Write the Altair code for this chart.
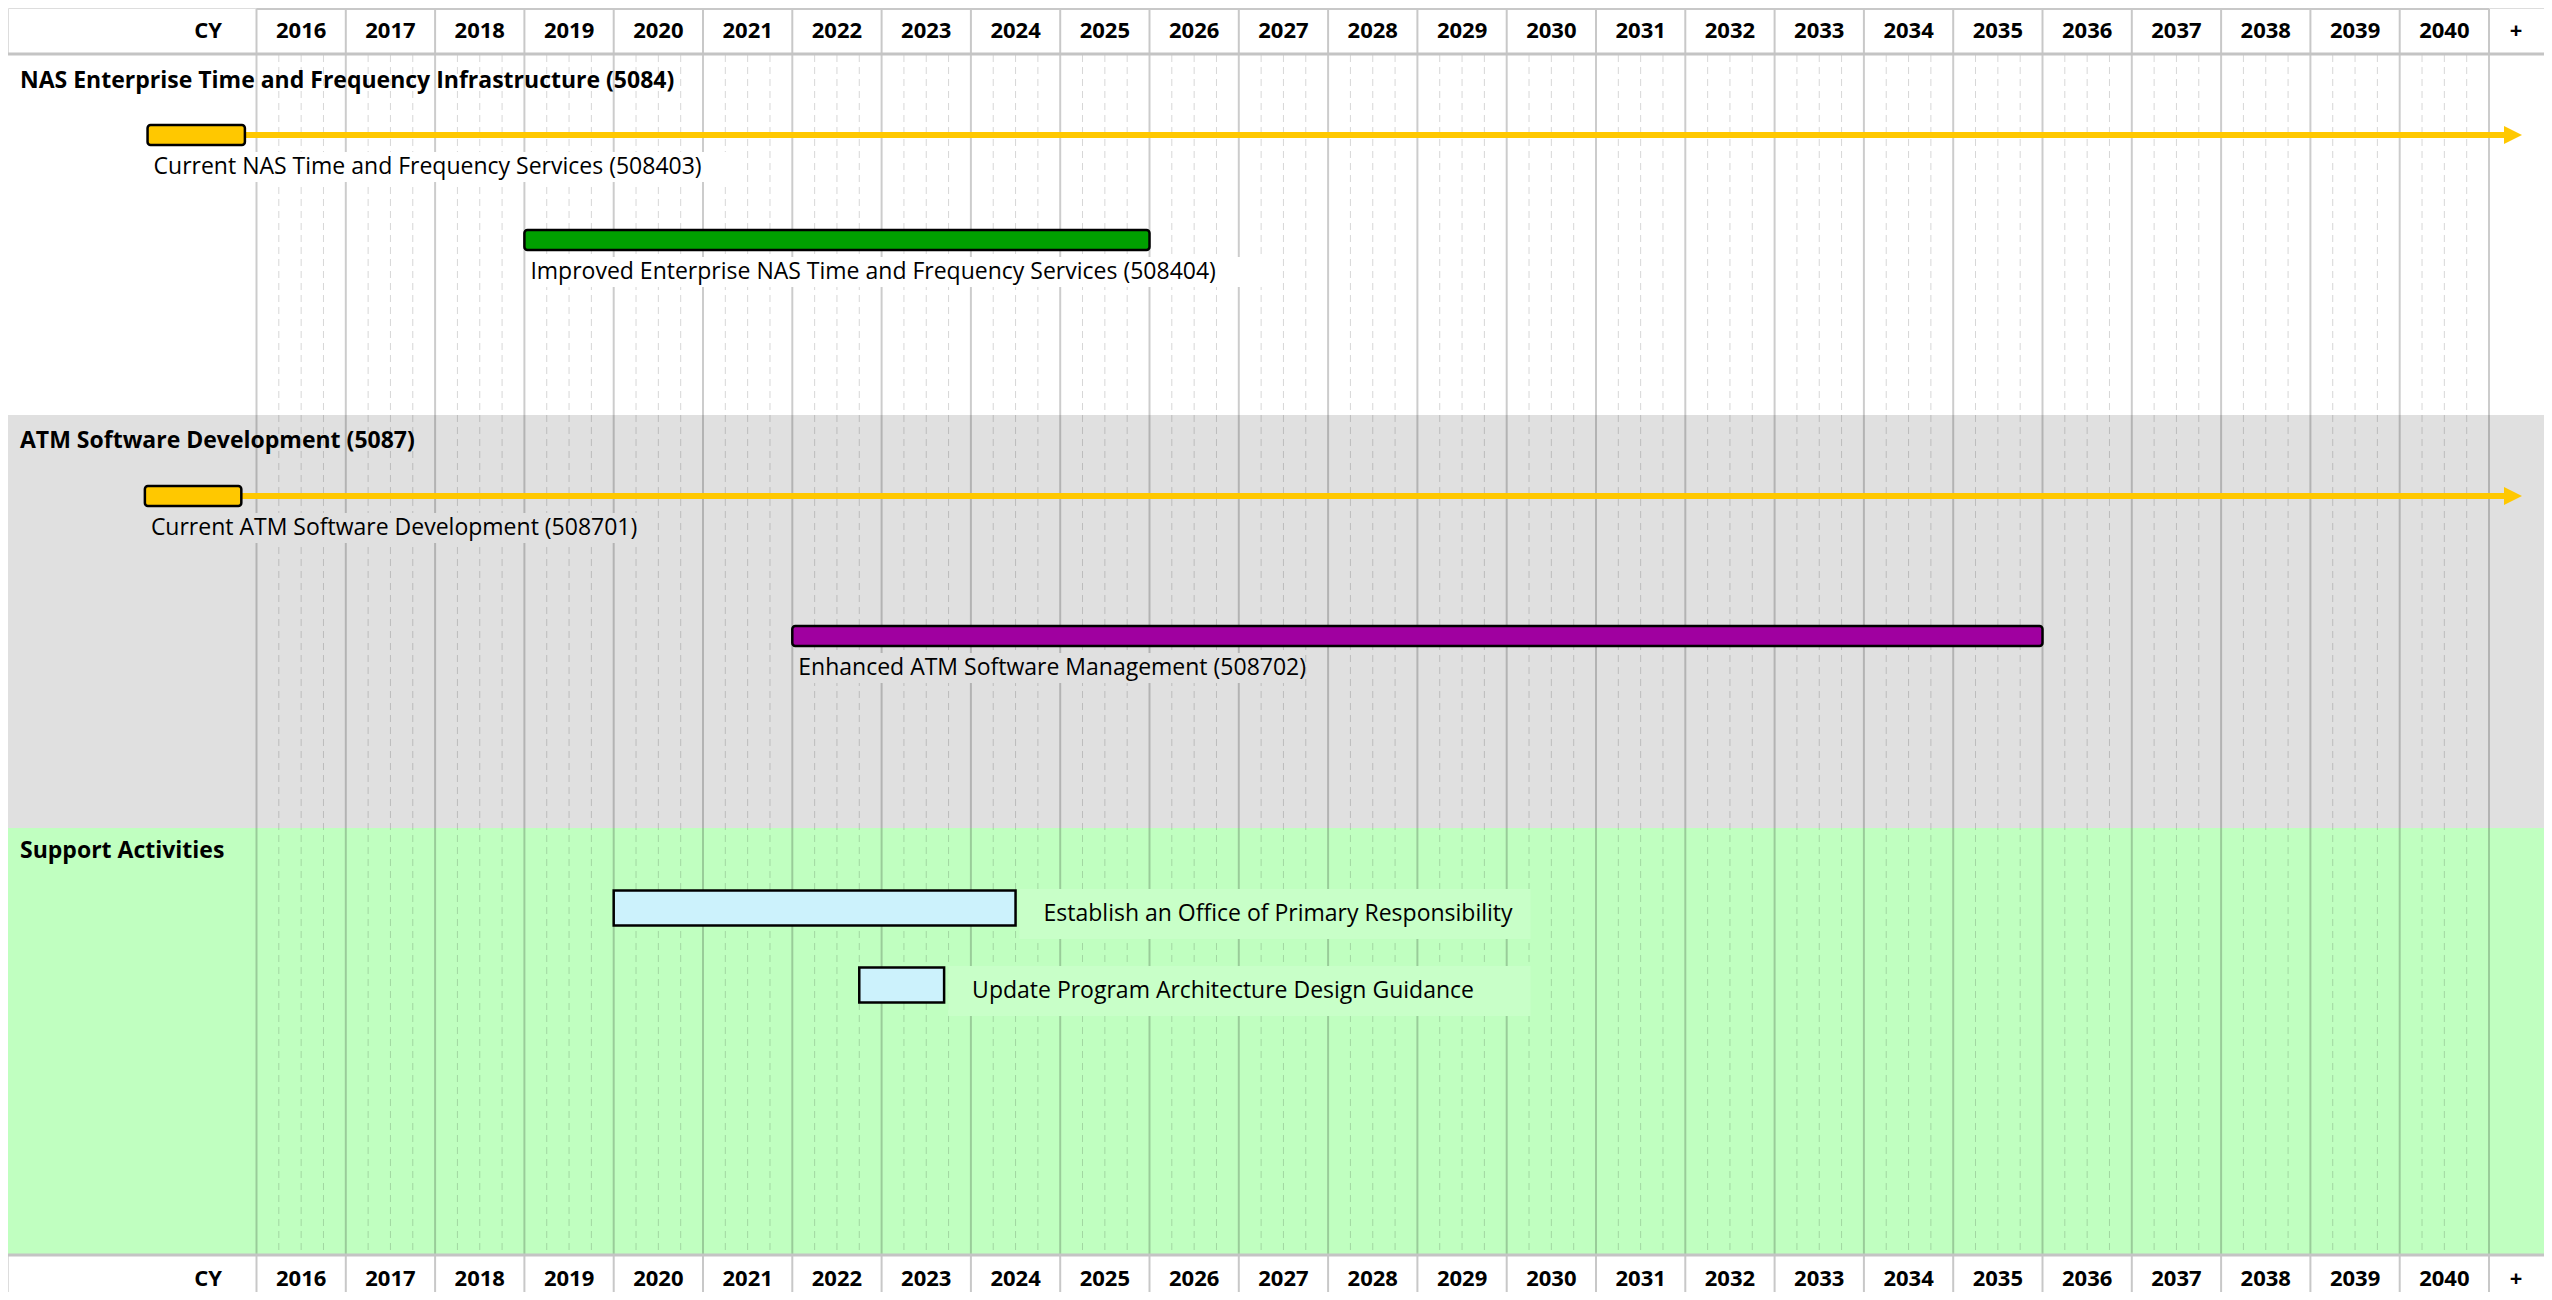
import altair as alt
import pandas as pd

# ---------------- data ----------------
years = list(range(2016, 2041))
header_first = "CY"
header_last = "+"

section_names = [
    "NAS Enterprise Time and Frequency Infrastructure (5084)",
    "ATM Software Development (5087)",
    "Support Activities",
]
section_colors = ["#FFFFFF", "#E0E0E0", "#C0FFC0"]
section_label_bg = ["#FFFFFF", "#E0E0E0", "#C8FFC8"]

task_names = [
    "Current NAS Time and Frequency Services (508403)",
    "Improved Enterprise NAS Time and Frequency Services (508404)",
    "Current ATM Software Development (508701)",
    "Enhanced ATM Software Management (508702)",
    "Establish an Office of Primary Responsibility",
    "Update Program Architecture Design Guidance",
]
task_section = [0, 0, 1, 1, 2, 2]
task_start = [2014.78, 2019.0, 2014.75, 2022.0, 2020.0, 2022.75]
task_end = [2015.87, 2026.0, 2015.83, 2036.0, 2024.5, 2023.7]
task_ongoing = [True, False, True, False, False, False]
task_kind = ["program", "program", "program", "program", "activity", "activity"]
task_colors = ["#FFC800", "#00A000", "#FFC800", "#A000A0", "#CCF2FC", "#CCF2FC"]

# ---------------- layout (pixels) ----------------
W, H = 2536, 1284
PAGE = 8
COL = 89.3          # px per year
X2016 = 256.5       # page px of the 2016 boundary


def yr(px):
    return 2016 + (px - X2016) / COL


X_DOM = [yr(PAGE), yr(PAGE + W)]
Y_DOM = [PAGE, PAGE + H]

HEADER_TOP, HEADER_BOTTOM = 9, 54
FOOTER_TOP, FOOTER_BOTTOM = 1256, 1300
HEADER_TEXT_Y, FOOTER_TEXT_Y = 31, 1279
section_top = [55, 415, 828]
section_bottom = [415, 828, 1255]
section_label_y = [81, 441, 851]
task_bar_y = [135, 240, 496, 636, 908, 985]
BAR_H = {"program": 20, "activity": 35}
CHAR_W = 12.1
CHAR_W_ACT = 10.6
FS_LABEL = 23
FS_HEADER = 22

xs = alt.Scale(domain=X_DOM, range=[0, W], nice=False, zero=False)
ys = alt.Scale(domain=Y_DOM, range=[0, H], nice=False, zero=False)


def X(f="x"):
    return alt.X(f + ":Q", scale=xs, axis=None)


def Y(f="y"):
    return alt.Y(f + ":Q", scale=ys, axis=None)


# ---------------- tables ----------------
sec_df = pd.DataFrame({
    "x": X_DOM[0], "x2": X_DOM[1],
    "y": section_top, "y2": section_bottom,
    "c": section_colors,
    "name": section_names, "ly": section_label_y,
    "lx": yr(20),
})

bounds = years + [years[-1] + 1]
grid_df = pd.DataFrame({"x": bounds, "y": section_top[0], "y2": section_bottom[-1]})
quarters = [y + q for y in years for q in (0.25, 0.5, 0.75)]
quarter_df = pd.DataFrame({"x": quarters, "y": section_top[0], "y2": section_bottom[-1]})

hdr_v = pd.DataFrame(
    [{"x": b, "y": HEADER_TOP, "y2": HEADER_BOTTOM} for b in bounds]
    + [{"x": b, "y": FOOTER_TOP, "y2": FOOTER_BOTTOM} for b in bounds]
)
hdr_top = pd.DataFrame({"x": [years[0]], "x2": [years[-1] + 1], "y": [HEADER_TOP]})
hdr_h = pd.DataFrame({"x": X_DOM[0], "x2": X_DOM[1], "y": [HEADER_BOTTOM, FOOTER_TOP - 1]})

labels = [header_first] + [str(y) for y in years] + [header_last]
lab_x = [yr(222)] + [y + 0.5 for y in years] + [yr(2516)]
lab_align = ["right"] + ["center"] * len(years) + ["center"]
hdr_txt = pd.DataFrame(
    [{"t": t, "x": x, "y": HEADER_TEXT_Y, "a": a} for t, x, a in zip(labels, lab_x, lab_align)]
    + [{"t": t, "x": x, "y": FOOTER_TEXT_Y, "a": a} for t, x, a in zip(labels, lab_x, lab_align)]
)

rows = []
for i, name in enumerate(task_names):
    kind = task_kind[i]
    cy = task_bar_y[i]
    h = BAR_H[kind]
    if kind == "program":
        lx = task_start[i] + 6 / COL
        ly = cy + 32
        bg_x = lx - 4 / COL
        bg_x2 = lx + (len(name) * CHAR_W + 6) / COL
        bg_y, bg_y2 = ly - 15, ly + 15
    else:
        lx = task_end[i] + 28 / COL
        ly = cy + 6
        bg_x = task_end[i] + 4 / COL
        bg_x2 = lx + (len(name) * CHAR_W_ACT + 10) / COL
        bg_y, bg_y2 = ly - 25, ly + 25
    rows.append(dict(
        name=name, kind=kind, x=task_start[i], x2=task_end[i],
        y=cy - h / 2, y2=cy + h / 2, cy=cy, c=task_colors[i],
        lx=lx, ly=ly, bg_x=bg_x, bg_x2=bg_x2, bg_y=bg_y, bg_y2=bg_y2,
        bgc=section_label_bg[task_section[i]], ongoing=task_ongoing[i],
    ))
task_df = pd.DataFrame(rows)
# activity label backgrounds share one right edge
act_mask = task_df.kind == "activity"
task_df.loc[act_mask, "bg_x2"] = task_df.loc[act_mask, "bg_x2"].max()
prog_df = task_df[task_df.kind == "program"]
act_df = task_df[act_mask]
ong_df = task_df[task_df.ongoing].copy()
ong_df["ax"] = yr(2504)
ong_df["hx"] = yr(2513)

# ---------------- layers ----------------
sections = alt.Chart(sec_df).mark_rect().encode(
    x=X(), x2="x2:Q", y=Y(), y2="y2:Q", color=alt.Color("c:N", scale=None))

grid = alt.Chart(grid_df).mark_rule(color="#000000", opacity=0.2, strokeWidth=2).encode(
    x=X(), y=Y(), y2="y2:Q")
qgrid = alt.Chart(quarter_df).mark_rule(
    color="#000000", opacity=0.16, strokeWidth=1, strokeDash=[7, 5]).encode(
    x=X(), y=Y(), y2="y2:Q")

hv = alt.Chart(hdr_v).mark_rule(color="#C8C8C8", strokeWidth=2).encode(x=X(), y=Y(), y2="y2:Q")
ht = alt.Chart(hdr_top).mark_rule(color="#C8C8C8", strokeWidth=2).encode(x=X(), x2="x2:Q", y=Y())
hh = alt.Chart(hdr_h).mark_rule(color="#C4C4C4", strokeWidth=3).encode(x=X(), x2="x2:Q", y=Y())

label_bg = alt.Chart(task_df).mark_rect().encode(
    x=X("bg_x"), x2="bg_x2:Q", y=Y("bg_y"), y2="bg_y2:Q", color=alt.Color("bgc:N", scale=None))

arrow_line = alt.Chart(ong_df).mark_rule(strokeWidth=6).encode(
    x=X("x2"), x2="ax:Q", y=Y("cy"), color=alt.Color("c:N", scale=None))
arrow_head = alt.Chart(ong_df).mark_point(
    shape="M-1,-1L1,0L-1,1Z", filled=True, opacity=1, size=324, strokeWidth=0).encode(
    x=X("hx"), y=Y("cy"), color=alt.Color("c:N", scale=None))

prog_bars = alt.Chart(prog_df).mark_rect(cornerRadius=3, stroke="#000000", strokeWidth=2.5).encode(
    x=X(), x2="x2:Q", y=Y(), y2="y2:Q", fill=alt.Fill("c:N", scale=None))
act_bars = alt.Chart(act_df).mark_rect(stroke="#000000", strokeWidth=2.5).encode(
    x=X(), x2="x2:Q", y=Y(), y2="y2:Q", fill=alt.Fill("c:N", scale=None))

task_text = alt.Chart(task_df).mark_text(
    align="left", baseline="middle", fontSize=FS_LABEL, color="#000000").encode(
    x=X("lx"), y=Y("ly"), text="name:N")
sec_text = alt.Chart(sec_df).mark_text(
    align="left", baseline="middle", fontSize=FS_LABEL, fontWeight="bold", color="#000000").encode(
    x=X("lx"), y=Y("ly"), text="name:N")
hdr_text_r = alt.Chart(hdr_txt[hdr_txt.a == "right"]).mark_text(
    align="right", baseline="middle", fontSize=FS_HEADER, fontWeight="bold", color="#000000").encode(
    x=X(), y=Y(), text="t:N")
hdr_text_c = alt.Chart(hdr_txt[hdr_txt.a == "center"]).mark_text(
    align="center", baseline="middle", fontSize=FS_HEADER, fontWeight="bold", color="#000000").encode(
    x=X(), y=Y(), text="t:N")

chart = alt.layer(
    sections, grid, qgrid, hv, ht, hh, label_bg,
    arrow_line, arrow_head, prog_bars, act_bars,
    task_text, sec_text, hdr_text_r, hdr_text_c,
).properties(
    width=W, height=H,
    autosize=alt.AutoSizeParams(type="none"),
    padding=0,
).configure_view(stroke=None).configure(font="Open Sans")

chart.save("out.html", embed_options={"renderer": "svg", "actions": False})
